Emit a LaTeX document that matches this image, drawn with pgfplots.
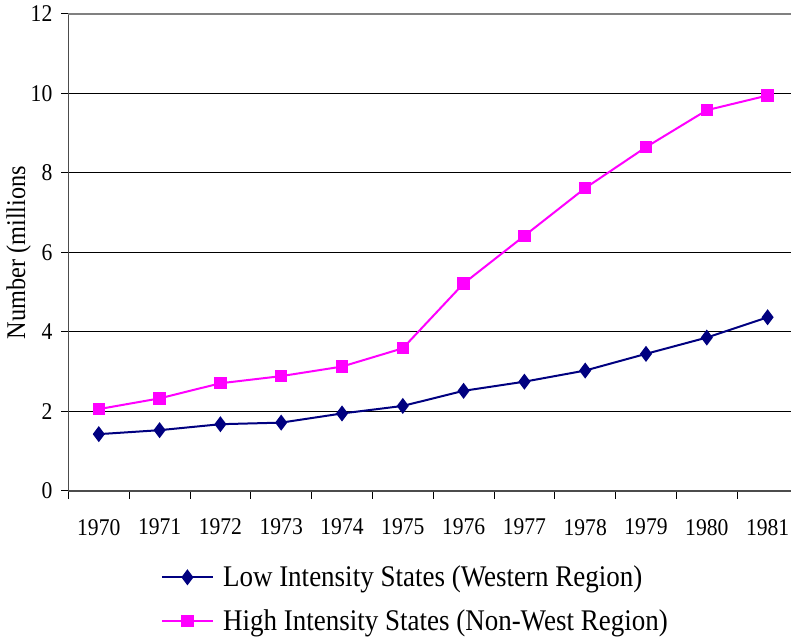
\documentclass[border=0pt]{standalone}
\usepackage{fontspec}
\setmainfont[FakeStretch=0.9]{Liberation Serif}
\usepackage{pgfplots}
\pgfplotsset{compat=1.18}
\definecolor{navyb}{RGB}{0,0,128}
\definecolor{magen}{RGB}{255,0,255}
\begin{document}
\begin{tikzpicture}
\useasboundingbox (-34.2pt,-74.5pt) rectangle (361.3pt,245.5pt);
\begin{axis}[
  at={(0,0)}, anchor=south west,
  scale only axis, width=361.3pt, height=238.5pt,
  xmin=-0.5, xmax=11.385, ymin=0, ymax=12,
  axis x line=bottom, axis y line=left,
  axis line style={gray!60!black, line width=0.8pt, -},
  xtick={0,...,11},
  xticklabels={1970,1971,1972,1973,1974,1975,1976,1977,1978,1979,1980,1981},
  minor xtick={-0.5,0.5,...,10.5},
  major x tick style={draw=none},
  minor x tick style={black, line width=0.5pt},
  minor tick length=4pt,
  tick align=outside,
  ytick={0,2,...,12},
  y tick style={black, line width=0.5pt},
  major tick length=3.5pt,
  ymajorgrids, major grid style={black, line width=0.5pt},
  /pgf/number format/assume math mode=true,
  tick label style={font=\fontsize{12}{14}\selectfont},
  xticklabel style={yshift=-7pt},
  yticklabel style={xshift=-1pt},
  ylabel={Number (millions},
  ylabel style={font=\fontsize{13.5}{15}\selectfont, at={(axis description cs:-0.069,0.5)}, anchor=center},
  legend cell align=left,
  legend style={draw=none, fill=none, inner sep=0pt, at={(axis description cs:0,0)}, anchor=north west, xshift=46pt, yshift=-35pt, font=\fontsize{15}{17}\selectfont, row sep=6pt,
    /tikz/every odd column/.append style={column sep=2.5pt}},
  legend image code/.code={\draw[mark repeat=2,mark phase=2,#1] plot coordinates {(0cm,0cm) (0.45cm,0cm) (0.9cm,0cm)};},
  clip=false,
]
\addplot[navyb, line width=1pt, mark=diamond*, mark size=3.2pt, mark options={solid, fill=navyb}] coordinates {
(0,1.43) (1,1.53) (2,1.68) (3,1.72) (4,1.95) (5,2.14) (6,2.52) (7,2.75) (8,3.03) (9,3.45) (10,3.86) (11,4.37)};
\addlegendentry{Low Intensity States (Western Region)}
\addplot[magen, line width=1pt, mark=square*, mark size=2.6pt, mark options={solid, fill=magen}] coordinates {
(0,2.06) (1,2.33) (2,2.71) (3,2.89) (4,3.13) (5,3.59) (6,5.22) (7,6.42) (8,7.62) (9,8.65) (10,9.58) (11,9.95)};
\addlegendentry{High Intensity States (Non-West Region)}
\draw[gray, line width=0.8pt] (axis cs:-0.5,12) -- (axis cs:11.385,12);
\end{axis}
\end{tikzpicture}
\end{document}
